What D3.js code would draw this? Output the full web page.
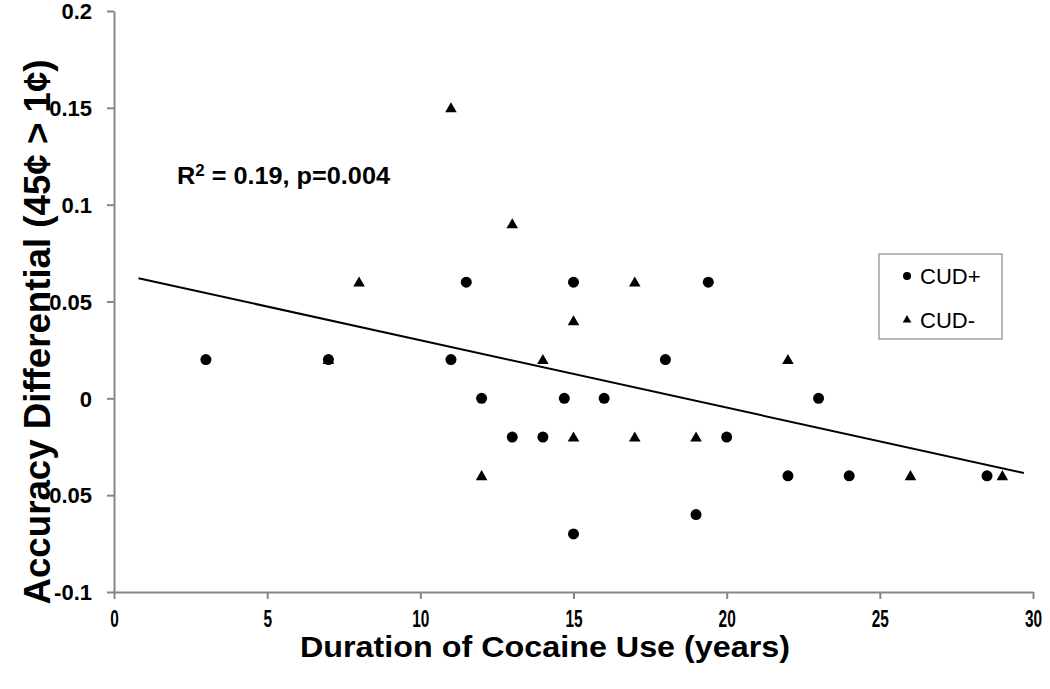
<!DOCTYPE html>
<html>
<head>
<meta charset="utf-8">
<title>Accuracy differential vs duration of cocaine use</title>
<style>
body {
  margin: 0;
  background: #fff;
  font-family: "Liberation Sans", Arial, sans-serif;
}
svg {
  display: block;
}
.axis path, .axis line {
  stroke: #868686;
  stroke-width: 2px;
}
.axis text {
  font-family: "Liberation Sans", Arial, sans-serif;
  font-weight: bold;
  font-size: 22px;
  fill: #000;
}
</style>
<script src="https://d3js.org/d3.v7.min.js"></script>
</head>
<body>
<div id="chart"></div>
<script>
// values
var cudPlusX = [3, 7, 11, 11.5, 12, 13, 14, 14.7, 15, 15, 16, 18, 19.4, 19, 20, 22, 23, 24, 28.5];
var cudPlusY = [0.02, 0.02, 0.02, 0.06, 0, -0.02, -0.02, 0, 0.06, -0.07, 0, 0.02, 0.06, -0.06, -0.02, -0.04, 0, -0.04, -0.04];
var cudMinusX = [7, 8, 11, 12, 13, 14, 15, 15, 17, 17, 19, 22, 26, 29];
var cudMinusY = [0.02, 0.06, 0.15, -0.04, 0.09, 0.02, 0.04, -0.02, 0.06, -0.02, -0.02, 0.02, -0.04, -0.04];
var xTicks = [0, 5, 10, 15, 20, 25, 30];
var yTicks = [-0.1, -0.05, 0, 0.05, 0.1, 0.15, 0.2];
var trendX = [0.8, 29.7];
var trendIntercept = 0.0648;
var trendSlope = -0.00348;
var seriesNames = ['CUD+', 'CUD-'];

var W = 1050, H = 689;
var svg = d3.select('#chart').append('svg').attr('width', W).attr('height', H);

var x = d3.scaleLinear().domain([0, 30]).range([114, 1033]);
var y = d3.scaleLinear().domain([-0.1, 0.2]).range([592, 11]);

// axes
var xAxis = svg.append('g').attr('class', 'axis')
  .attr('transform', 'translate(0,' + y(-0.1) + ')')
  .call(d3.axisBottom(x).tickValues(xTicks).tickSize(7).tickSizeOuter(0).tickPadding(0).tickFormat(d3.format('d')));
xAxis.selectAll('text')
  .attr('y', 0).attr('dy', null)
  .attr('transform', 'translate(0,35) scale(0.7,1.12)');

var yAxis = svg.append('g').attr('class', 'axis')
  .attr('transform', 'translate(' + x(0) + ',0)')
  .call(d3.axisLeft(y).tickValues(yTicks).tickSize(7).tickSizeOuter(0).tickPadding(15).tickFormat(d => d === 0 ? '0' : String(d)));
yAxis.selectAll('text').attr('dy', '0.35em');

// axis titles
svg.append('text')
  .attr('x', 545).attr('y', 657)
  .attr('text-anchor', 'middle')
  .attr('textLength', 490).attr('lengthAdjust', 'spacingAndGlyphs')
  .style('font-weight', 'bold').style('font-size', '29px')
  .text('Duration of Cocaine Use (years)');

svg.append('text')
  .attr('transform', 'translate(50,332) rotate(-90)')
  .attr('text-anchor', 'middle')
  .attr('textLength', 545).attr('lengthAdjust', 'spacingAndGlyphs')
  .style('font-weight', 'bold').style('font-size', '36px')
  .text('Accuracy Differential (45\u00A2 > 1\u00A2)');

// trend line
var line = d3.line().x(d => x(d)).y(d => y(trendIntercept + trendSlope * d));
svg.append('path').datum(trendX)
  .attr('d', line)
  .attr('fill', 'none').attr('stroke', '#000').attr('stroke-width', 2);

// points
var circles = d3.zip(cudPlusX, cudPlusY);
var triangles = d3.zip(cudMinusX, cudMinusY);
var tri = d3.symbol().type(d3.symbolTriangle).size(58);

svg.append('g').selectAll('circle').data(circles).enter().append('circle')
  .attr('cx', d => x(d[0])).attr('cy', d => y(d[1])).attr('r', 5.5).attr('fill', '#000');

svg.append('g').selectAll('path').data(triangles).enter().append('path')
  .attr('d', tri)
  .attr('transform', d => 'translate(' + x(d[0]) + ',' + (y(d[1]) + 1) + ')')
  .attr('fill', '#000');

// annotation
var note = svg.append('text')
  .attr('x', 177).attr('y', 184)
  .attr('textLength', 213).attr('lengthAdjust', 'spacingAndGlyphs')
  .style('font-weight', 'bold').style('font-size', '24px');
note.append('tspan').text('R');
note.append('tspan').attr('dy', -8).style('font-size', '16px').text('2');
note.append('tspan').attr('dy', 8).text(' = 0.19, p=0.004');

// legend
var lg = svg.append('g').attr('transform', 'translate(879,254)');
lg.append('rect').attr('width', 123).attr('height', 85)
  .attr('fill', '#fff').attr('stroke', '#a0a0a0').attr('stroke-width', 1.5);
lg.append('circle').attr('cx', 28).attr('cy', 22).attr('r', 4).attr('fill', '#000');
lg.append('path').attr('d', d3.symbol().type(d3.symbolTriangle).size(32))
  .attr('transform', 'translate(28,66)').attr('fill', '#000');
lg.selectAll('text.lab').data(seriesNames).enter().append('text')
  .attr('class', 'lab')
  .attr('x', 41).attr('y', (d, i) => 22 + i * 44)
  .attr('dy', '0.36em')
  .style('font-size', '22px')
  .text(d => d);
</script>
</body>
</html>
